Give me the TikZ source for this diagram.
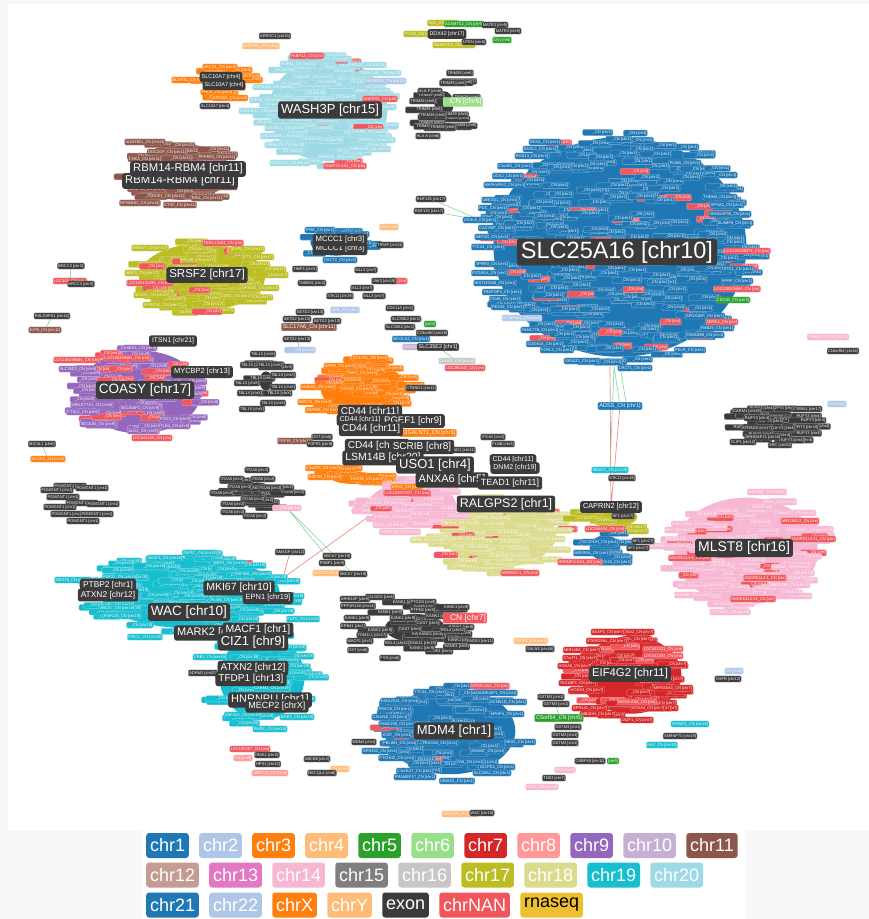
\documentclass[tikz,border=0pt]{standalone}
\usepackage{fontspec}
\setmainfont{Liberation Sans}
\usetikzlibrary{positioning}
\pgfdeclarelayer{back}
\pgfdeclarelayer{links}
\pgfsetlayers{back,links,main}
\definecolor{chr1}{HTML}{1F77B4}\definecolor{chr2}{HTML}{AEC7E8}
\definecolor{chr3}{HTML}{FF7F0E}\definecolor{chr4}{HTML}{FFBB78}
\definecolor{chr5}{HTML}{2CA02C}\definecolor{chr6}{HTML}{98DF8A}
\definecolor{chr7}{HTML}{D62728}\definecolor{chr8}{HTML}{FF9896}
\definecolor{chr9}{HTML}{9467BD}\definecolor{chr10}{HTML}{C5B0D5}
\definecolor{chr11}{HTML}{8C564B}\definecolor{chr12}{HTML}{C49C94}
\definecolor{chr13}{HTML}{E377C2}\definecolor{chr14}{HTML}{F7B6D2}
\definecolor{chr15}{HTML}{7F7F7F}\definecolor{chr16}{HTML}{C7C7C7}
\definecolor{chr17}{HTML}{BCBD22}\definecolor{chr18}{HTML}{DBDB8D}
\definecolor{chr19}{HTML}{17BECF}\definecolor{chr20}{HTML}{9EDAE5}
\definecolor{chr21}{HTML}{1F77B4}\definecolor{chr22}{HTML}{AEC7E8}
\definecolor{chrX}{HTML}{FF7F0E}\definecolor{chrY}{HTML}{FFBB78}
\definecolor{exon}{HTML}{3B3B3B}\definecolor{chrNAN}{HTML}{F0565C}
\definecolor{rnaseq}{HTML}{EEC031}
\definecolor{edgegreen}{HTML}{8FDBA8}\definecolor{edgepink}{HTML}{F08A8A}
\definecolor{panel}{HTML}{F8F8F8}
% cloud of small gene chips: cx, cy, rx, ry, count, colour, text, red share, core
\newcommand{\genecloud}[9]{%
  \fill[#6] (#1,#2) ellipse [x radius=#9*#3, y radius=#9*#4];
  \foreach \k in {1,...,#5}{%
    \pgfmathsetmacro\gang{360*rnd}%
    \pgfmathsetmacro\grad{sqrt(rnd)}%
    \pgfmathsetmacro\gpad{12*rnd}%
    \pgfmathsetmacro\gred{rnd}%
    \pgfmathsetmacro\gx{#1+#3*\grad*cos(\gang)}%
    \pgfmathsetmacro\gy{#2+#4*\grad*sin(\gang)}%
    \ifdim\gred pt<#8pt
      \node[chip=chrNAN] at (\gx,\gy) {\hspace*{\gpad pt}\_CN [chr]};%
    \else
      \node[chip=#6] at (\gx,\gy) {\hspace*{\gpad pt}#7};%
    \fi
  }}

\begin{document}
\begin{tikzpicture}[x=1pt,y=-1pt,
  chip/.style={fill=#1,draw=#1!55!white,line width=.3pt,rounded corners=1.2pt,text=white,inner xsep=1pt,inner ysep=1.2pt,font=\fontsize{4}{4.5}\selectfont},
  bigchip/.style={chip=#1,inner xsep=1.5pt,font=\fontsize{5.5}{6}\selectfont},
  hub/.style={fill=exon,text=white,rounded corners=2.5pt,inner xsep=3pt,inner ysep=2.5pt,font=\fontsize{#1}{#1}\selectfont},
  key/.style={fill=#1,text=white,rounded corners=3pt,minimum height=25pt,inner xsep=3.8pt,font=\fontsize{18}{18}\selectfont},
  link/.style={line width=.7pt}]
\useasboundingbox (0,0) rectangle (869,919);
\begin{pgfonlayer}{back}
\fill[panel] (0,0) rectangle (869,919);
\fill[white] (8,4) rectangle (869,831);
\fill[white] (143,831) rectangle (745,919);
\end{pgfonlayer}
\pgfmathsetseed{11}

% clusters
\genecloud{620}{247}{136}{118}{300}{chr1}{\_CN [chr1]}{0.1}{0.93}
\genecloud{328}{110}{66}{57}{80}{chr20}{\_CN [chr20]}{0.08}{0.9}
\genecloud{182}{172}{54}{31}{36}{chr11}{\_CN [chr11]}{0}{0.9}
\genecloud{221}{82}{30}{16}{12}{chrX}{\_CN [chrX]}{0}{0.6}
\genecloud{444}{104}{24}{32}{14}{exon}{TRIM39 [chr6]}{0}{0.4}
\genecloud{202}{277}{70}{37}{55}{chr17}{\_CN [chr17]}{0.08}{0.9}
\genecloud{336}{242}{32}{17}{12}{chr1}{\_CN [chr1]}{0.08}{0.8}
\genecloud{140}{392}{68}{46}{66}{chr9}{\_CN [chr9]}{0.4}{0.9}
\genecloud{363}{388}{50}{30}{32}{chr3}{\_CN [chr3]}{0.08}{0.85}
\genecloud{355}{478}{40}{10}{10}{chr3}{\_CN [chr3]}{0}{0.6}
\genecloud{500}{535}{70}{40}{85}{chr18}{\_CN [chr18]}{0.12}{0.8}
\genecloud{412}{505}{52}{26}{36}{chr14}{\_CN [chr14]}{0.15}{0.85}
\genecloud{190}{593}{102}{40}{85}{chr19}{\_CN [chr19]}{0.05}{0.88}
\genecloud{262}{677}{50}{50}{50}{chr19}{\_CN [chr19]}{0.05}{0.85}
\genecloud{450}{731}{71}{47}{70}{chr1}{\_CN [chr1]}{0.05}{0.92}
\genecloud{631}{675}{56}{43}{50}{chr7}{\_CN [chr7]}{0.2}{0.9}
\genecloud{746}{551}{78}{58}{95}{chr14}{\_CN [chr14]}{0.2}{0.92}
\genecloud{612}{517}{36}{14}{10}{chr17}{\_CN [chr17]}{0}{0.7}
\genecloud{605}{548}{22}{18}{8}{chr1}{\_CN [chr1]}{0.2}{0.7}
\genecloud{778}{423}{38}{21}{30}{exon}{RUFY3 [chr4]}{0}{0.6}
\genecloud{257}{491}{34}{19}{12}{exon}{ITGA6 [chr2]}{0}{0.45}
\genecloud{415}{628}{60}{28}{24}{exon}{KANK1 [chr9]}{0}{0.5}
\genecloud{266}{381}{16}{24}{6}{exon}{TBL1X [chrX]}{0}{0.4}

% readable chips
\foreach \x/\y/\t [count=\i] in {545/142/RGS1\_CN [chr1],540/149/RGSL1\_CN [chr1],532/156/RGS13\_CN [chr1],515/166/C1orf51\_CN [chr1],508/176/UCK2\_CN [chr1],505/185/MAPKAPK2\_CN [chr1],500/200/UBE2Q1\_CN [chr1],493/208/PDC\_CN [chr1],497/217/SDHC\_CN [chr1],497/228/CACYBP\_CN [chr1],492/237/MEF2D\_CN [chr1],488/247/TTC24\_CN [chr1],492/264/SPRR3\_CN [chr1],490/273/FCGR1A\_CN [chr1],495/283/HIST2H2AB\_CN [chr1],502/292/TRAF3IP3\_CN [chr1],505/299/CD48\_CN [chr1],508/307/PEX19\_CN [chr1],540/330/FAM177B\_CN [chr1],545/344/S100A14\_CN [chr1],557/350/FCRL3\_CN [chr1],582/361/OR10Z1\_CN [chr1],635/368/CRCT1\_CN [chr1],730/214/ARHGAP30\_CN [chr1],735/223/SLAMF6\_CN [chr1],727/205/APOA2\_CN [chr1],720/197/THEM4\_CN [chr1],685/163/PI4KB\_CN [chr1],737/269/TSTD1\_CN [chr1],737/281/KPRP\_CN [chr1],705/316/APOA1BP\_CN [chr1],717/328/RAB25\_CN [chr1],705/335/FAM189B\_CN [chr1],690/350/PKLR\_CN [chr1],320/230/PPIE\_CN [chr1],340/260/OXCT2\_CN [chr1],411/339/MCOLN2\_CN [chr1],600/542/SCCPDH\_CN [chr1],592/553/MIR3916\_CN [chr1],615/562/COX20\_CN [chr1],430/692/TTC34\_CN [chr1],497/693/AURKAIP1\_CN [chr1],400/701/KIAA2013\_CN [chr1],508/702/SCNN1D\_CN [chr1],395/709/FBXO6\_CN [chr1],507/714/NPHP4\_CN [chr1],390/717/CALML6\_CN [chr1],398/724/FAM213B\_CN [chr1],397/735/ICMT\_CN [chr1],400/743/FBLIM1\_CN [chr1],440/743/FBXO44\_CN [chr1],380/751/GPR153\_CN [chr1],397/758/PTCHD2\_CN [chr1],415/771/C1orf127\_CN [chr1],415/777/PRAMEF17\_CN [chr1],492/773/SLC45A1\_CN [chr1],497/767/GLTPD1\_CN [chr1],488/751/AGMAT\_CN [chr1],520/742/HES2\_CN [chr1],470/762/CA6\_CN [chr1],457/781/UBIAD1\_CN [chr1]}
  \node[chip=chr1] (b\i) at (\x,\y) {\t};
\node[chip=chr1] (uchl) at (480,220) {UCHL5\_CN [chr1]};
\node[bigchip=chr1] (adss) at (620,406) {ADSS\_CN [chr1]};
\foreach \x/\y/\t [count=\i] in {335/59/EBF4\_CN [chr20],298/64/RNF24\_CN [chr20],367/65/NSFL1C\_CN [chr20],380/73/TMEM74B\_CN [chr20],313/77/C20orf27\_CN [chr20],273/87/DEFB126\_CN [chr20],373/91/BMP2\_CN [chr20],267/100/STK35\_CN [chr20],260/111/C20orf141\_CN [chr20],285/128/SIGLEC1\_CN [chr20],370/132/SIRPG\_CN [chr20],282/136/LINC00658\_CN [chr20],377/140/GFRA4\_CN [chr20],285/145/DEFB129\_CN [chr20],370/149/TMEM239\_CN [chr20],337/157/MRPS26\_CN [chr20],290/163/RAD21L1\_CN [chr20]}
  \node[chip=chr20] (w\i) at (\x,\y) {\t};
\foreach \x/\y/\t [count=\i] in {145/142/ALDH3B1\_CN [chr11],167/152/DOC2GP\_CN [chr11],145/159/CHKA\_CN [chr11],217/157/PPP6R3\_CN [chr11],147/189/NDUFS8\_CN [chr11],218/187/PPP1CA\_CN [chr11],168/196/RCE1\_CN [chr11],207/198/RIN1\_CN [chr11],140/203/RPS6KB2\_CN [chr11],180/205/CTSF\_CN [chr11],295/441/FGF19\_CN [chr11]}
  \node[chip=chr11] (r\i) at (\x,\y) {\t};
\foreach \x/\y/\t [count=\i] in {220/67/ABCD1\_CN [chrX],190/80/BCAP31\_CN [chrX],217/92/PNCK\_CN [chrX],230/98/ATP2B3\_CN [chrX],370/358/COL7A1\_CN [chr3],340/366/APEH\_CN [chr3],362/373/TMA7\_CN [chr3],318/387/SHISA5\_CN [chr3],357/389/DHX30\_CN [chr3],315/402/MIR711\_CN [chr3],323/410/ZNF589\_CN [chr3],323/468/C3orf75\_CN [chr3],325/477/RAP2B\_CN [chr3],367/479/DHX36\_CN [chr3],407/487/GFM1\_CN [chr3],48/459/DOCK3\_CN [chr3]}
  \node[chip=chr3] (o\i) at (\x,\y) {\t};
\foreach \x/\y/\t [count=\i] in {443/23/GH1\_CN [chr17],421/34/FTSJ3\_CN [chr17],454/45/SMARCD2\_CN [chr17],248/249/EVPL\_CN [chr17],150/248/MXRA7\_CN [chr17],198/260/RPL38\_CN [chr17],258/257/ICT1\_CN [chr17],142/273/WBP2\_CN [chr17],260/288/GRIN2C\_CN [chr17],152/295/ACOX1\_CN [chr17],237/296/CDK3\_CN [chr17],163/305/GPRC5C\_CN [chr17],638/531/CN [chr17]}
  \node[chip=chr17] (y\i) at (\x,\y) {\t};
\foreach \x/\y/\t [count=\i] in {140/348/AAED1\_CN [chr9],78/369/SLC35D2\_CN [chr9],175/419/FGD3\_CN [chr9],175/426/TLE4\_CN [chr9],140/408/SECISBP2\_CN [chr9],143/431/ALG2\_CN [chr9],98/424/SEC61B\_CN [chr9],92/405/MIRLET7A1\_CN [chr9],83/412/CTSL2\_CN [chr9]}
  \node[chip=chr9] (p\i) at (\x,\y) {\t};
\foreach \x/\y/\t [count=\i] in {385/503/LGALS3\_CN [chr14],393/517/PTGDR\_CN [chr14],390/525/MAX\_CN [chr14],400/532/TXNDC16\_CN [chr14],693/524/LINC00341\_CN [chr14],680/530/AK7\_CN [chr14],670/546/SERPINA4\_CN [chr14],795/513/C14orf177\_CN [chr14],808/530/LINC00523\_CN [chr14],767/492/MIR2392\_CN [chr14],780/502/DLK1\_CN [chr14],693/586/EVL\_CN [chr14],693/595/MIR495\_CN [chr14],730/612/CYP46A1\_CN [chr14],790/585/MIR323B\_CN [chr14],790/567/MIR411\_CN [chr14],828/337/TMEM179\_CN [chr14],565/770/CN [chr14],542/787/ATL1\_CN [chr14]}
  \node[chip=chr14] (k\i) at (\x,\y) {\t};
\node[chip=chr14] (itgaPink) at (287,508) {\hspace*{8pt}CN [chr14]};
\foreach \x/\y/\t [count=\i] in {460/523/ZNF516\_CN [chr18],467/539/GALR1\_CN [chr18],520/560/CNDP2\_CN [chr18],547/539/CDH19\_CN [chr18],427/540/RBFA\_CN [chr18],493/518/RTTN\_CN [chr18]}
  \node[chip=chr18] (e\i) at (\x,\y) {\t};
\foreach \x/\y/\t [count=\i] in {165/558/ADAT3\_CN [chr19],200/553/ZNF57\_CN [chr19],230/563/EEF2\_CN [chr19],120/577/FGF22\_CN [chr19],253/574/ZNF556\_CN [chr19],73/580/MED16\_CN [chr19],117/608/ABCA7\_CN [chr19],122/616/RNF126\_CN [chr19],145/637/STK11\_CN [chr19],227/600/PLIN5\_CN [chr19],177/609/RPS15\_CN [chr19],303/619/FUT5\_CN [chr19],210/657/CRB3\_CN [chr19],272/688/CARM1\_CN [chr19],243/715/ZNF443\_CN [chr19],297/717/EMR3\_CN [chr19],270/729/EMR2\_CN [chr19],690/724/GRWD1\_CN [chr19],662/745/BAX\_CN [chr19]}
  \node[chip=chr19] (c\i) at (\x,\y) {\t};
\node[chip=chr19] (sbno) at (610,470) {SBNO2\_CN [chr19]};
\foreach \x/\y/\t [count=\i] in {637/632/HOXA2\_CN [chr7],608/632/SKAP2\_CN [chr7],637/639/TRIL\_CN [chr7],607/641/STARD3NL\_CN [chr7],582/650/MIR148A\_CN [chr7],580/658/C7orf71\_CN [chr7],575/666/HOXA5\_CN [chr7],578/683/TAX1BP1\_CN [chr7],587/690/HOXA3\_CN [chr7],673/688/MIR550A3\_CN [chr7],590/708/GPR141\_CN [chr7],598/714/HIBADH\_CN [chr7],648/708/HOXA4\_CN [chr7],637/720/JAZF1\_CN [chr7]}
  \node[chip=chr7] (h\i) at (\x,\y) {\t};
\foreach \x/\y/\t [count=\i] in {747/251/LOC100288079\_CN [chr],737/289/LOC100505666\_CN [chr],722/322/MIR9-1\_CN [chr],380/99/ANKRD5\_CN [chr],345/166/SNAP25-AS1\_CN [chr],307/56/FKBP1A\_CN [chr],223/243/TEN1-CDK3\_CN [chr],150/283/LOC100131096\_CN [chr],77/360/LOC100499484\_CN [chr],127/358/LOC100499484\_CN [chr],152/438/LOC441455\_CN [chr],465/368/LOC390443\_CN [chr],407/493/LOC100507537\_CN [chr],520/573/MIR5583-1\_CN [chr],605/529/LOC256654\_CN [chr],580/562/HNRNPU-AS1\_CN [chr],663/649/LOC401321\_CN [chr],663/656/LOC441204\_CN [chr],637/702/HOXA-AS4\_CN [chr],490/686/MTOR-AS1\_CN [chr],690/558/SNORD114-8\_CN [chr],765/578/SNORD114-1\_CN [chr],753/599/SNORD114-31\_CN [chr],813/539/SNORD114-21\_CN [chr],800/521/MIR1185-2\_CN [chr],250/749/LOC100287\_CN [chr],399/281/CN [chr]}
  \node[chip=chrNAN] (n\i) at (\x,\y) {\t};
\node[chip=chrNAN] (loc405) at (70,281) {LOC405\_CN [chr]};
\foreach \x/\y/\t/\c [count=\i] in {385/81/SNORD56\_CN [chr22]/chr22,733/300/CKS1B\_CN [chr5]/chr5,522/318/SCARNA4\_CN [chr2]/chr2,464/24/ADAMTS2\_CN [chr5]/chr5,502/40/CN [chr5]/chr5,389/227/CN [chr4]/chr4,345/310/NEB\_CN [chr2]/chr2,430/324/[chr5]/chr5,413/347/CN [chr10]/chr10,457/361/CAUD2\_CN [chr16]/chr16,837/404/CN [chr2]/chr2,531/641/TECRL\_CN [chr4]/chr4,734/671/CN [chr2]/chr2,613/761/[chr5]/chr5,460/814/GPR125\_CN [chr4]/chr4,261/46/MIR5705\_CN [chr4]/chr4,243/758/CN [chr8]/chr8,270/773/UBE2V2\_CN [chr8]/chr8,340/769/CN [chr4]/chr4,330/573/EXOC3\_CN [chr5]/chr4,45/330/E2F8\_CN [chr11]/chr11}
  \node[chip=\c] (m\i) at (\x,\y) {\t};
\node[chip=chr22] (c22) at (300,350) {\hspace*{10pt}CN [chr22]};
\node[bigchip=chr11] (slc17) at (309,327) {SLC17A6\_CN [chr11]};
\node[bigchip=chr5] (c5orf) at (559,718) {C5orf64\_CN [chr5]};
\node[chip=chr6,font=\fontsize{7.5}{8}\selectfont] (cn6) at (463,102) {\hspace*{6pt}CN [chr6]};

% exon chips
\foreach \x/\y/\t [count=\i] in {460/73/TRIM39 [chr6],453/83/TRIM39 [chr6],430/91/HLA-F [chr6],423/101/TRIM39 [chr6],433/115/TRIM39 [chr6],443/127/TRIM39 [chr6],428/136/HLA-A [chr6],495/25/MATR3 [chr5],508/31/MATR3 [chr5],474/42/UTRN [chr6],215/106/SLC10A7 [chr4],390/245/TIRAP [chr11],305/269/TIMP1 [chrX],312/283/TMBIM1 [chr2],366/270/MLL3 [chr7],384/281/JAK3 [chr19],362/288/MLL3 [chr7],340/296/STK11 [chr19],374/296/MLL3 [chr7],310/312/SETD2 [chr13],297/319/SETD2 [chr13],327/321/SETD2 [chr13],400/308/CDK11A [chr1],406/319/SLC35E2 [chr1],400/327/SLC35E2 [chr1],432/333/C19orf60 [chr19],263/354/TBL1X [chrX],253/365/TBL1X [chrX],270/365/TBL1X [chrX],283/375/TBL1X [chrX],247/383/TBL1X [chrX],283/387/TBL1X [chrX],250/393/TBL1X [chrX],273/403/TBL1X [chrX],252/409/TBL1X [chrX],322/437/DST [chr6],320/444/FGFR1 [chr8],460/450/CTNND1 [chr11],493/437/ITGAV [chr2],503/444/FLNB [chr3],257/470/ITGA6 [chr2],232/479/ITGA6 [chr2],263/479/ITGA6 [chr2],240/487/ITGA6 [chr2],270/488/ITGA6 [chr2],222/493/ITGA6 [chr2],253/499/ITGA6 [chr2],233/504/ITGA6 [chr2],233/512/ITGA6 [chr2],255/516/ITGA6 [chr2],70/486/POMGNT1 [chr1],57/490/POMGNT1 [chr1],92/488/POMGNT1 [chr1],63/497/POMGNT1 [chr1],82/503/POMGNT1 [chr1],60/507/POMGNT1 [chr1],103/504/POMGNT1 [chr1],67/514/POMGNT1 [chr1],97/514/POMGNT1 [chr1],83/521/POMGNT1 [chr1],747/411/CARM1 [chr19],807/409/CYB561 [chr17],757/418/RUFY3 [chr4],807/427/IFIT3 [chr10],757/428/STRADA [chr17],763/437/ARHGAP21 [chr10],743/442/CLIP1 [chr12],780/445/SRC [chr20],623/516/NF1 [chr17],643/541/NF1 [chr17],638/548/NF1 [chr17],622/478/STK11 [chr19],380/597/RALGDS [chr9],355/599/ARHGAP [chr9],358/606/PPP1R13A [chr14],423/602/PTGDS [chr9],423/610/PTPN3 [chr9],357/618/KANK1 [chr9],403/618/KANK1 [chr9],428/623/CAST [chr5],410/629/CAST [chr5],453/630/RGL4 [chr22],353/626/EPB41 [chr1],372/635/TOM1L1 [chr17],360/641/MACF1 [chr1],423/643/GNA11 [chr19],397/643/RGL4 [chr22],358/650/DST [chr6],390/658/FYN [chr6],480/641/FADS3 [chr11],337/556/ABCA7 [chr19],267/755/IRAK1 [chrX],268/764/HPS1 [chr10],317/759/ABCB6 [chr2],322/773/RECQL4 [chr8],551/697/GSTM3 [chr1],568/727/GSTM3 [chr1],565/735/GSTM3 [chr1],565/743/GSTM3 [chr1],540/649/GALNS [chr16],680/736/SNRNP70 [chr19],728/679/CHFR [chr12],590/761/OSBPL8 [chr11],554/778/TNS3 [chr7],482/813/WAC [chr10],275/36/ARRDC4 [chr15],843/351/C16orf84 [chr16],81/284/BRCC3 [chrX],203/673/ADRM1 [chr20]}
  \node[chip=exon] (x\i) at (\x,\y) {\t};
\node[chip=exon] (rnfA) at (431,199) {RNF135 [chr17]};
\node[chip=exon] (rnfB) at (429,211) {RNF135 [chr17]};
\node[chip=exon] (brccA) at (71,266) {BRCC3 [chrX]};
\node[chip=exon] (ralgapa) at (52,316) {RALGAPA1 [chr14]};
\node[chip=exon] (mical) at (42,444) {MICAL1 [chr6]};
\node[chip=exon] (setdC) at (297,339) {SETD2 [chr13]};
\node[chip=exon] (fnbp) at (332,563) {FNBP1 [chr9]};
\node[chip=exon] (abcaB) at (353,574) {ABCA7 [chr19]};
\node[chip=exon] (smagp) at (290,552) {SMAGP [chr12]};
\node[chip=exon] (gstA) at (556,704) {GSTM3 [chr1]};
\node[chip=exon] (mdmA) at (364,742) {MDM4 [chr1]};
\node[chip=exon] (ctnA) at (421,388) {CTNND1 [chr11]};
\node[bigchip=exon] (slc35big) at (438,347) {SLC35E2 [chr1]};
\node[bigchip=chr3] (b3gal) at (428,433) {B3GALNT1\_CN [chr3]};
\node[chip=chrNAN,font=\fontsize{8.5}{9}\selectfont] (cn7) at (465,618) {\hspace*{6pt}CN [chr7]};

% hubs
\node[hub=23.5,inner xsep=4pt] (slc) at (617,252) {SLC25A16 [chr10]};
\node[hub=13] (wash) at (330,110) {WASH3P [chr15]};
\node[hub=11.3] (rbmB) at (180,181) {RBM14-RBM4 [chr11]};
\node[hub=11.3] (rbm) at (188,169) {RBM14-RBM4 [chr11]};
\node[hub=5.5,inner xsep=2pt] (slc10a) at (221,77) {SLC10A7 [chr4]};
\node[hub=5.5,inner xsep=2pt] (slc10b) at (224,85) {SLC10A7 [chr4]};
\node[hub=5.3,inner xsep=2pt] (ddx) at (447,34) {DDX42 [chr17]};
\node[hub=11.5] (srsf) at (207,275) {SRSF2 [chr17]};
\node[hub=7.7] (mcccB) at (340,249) {MCCC1 [chr3]};
\node[hub=7.7] (mccc) at (340,240) {MCCC1 [chr3]};
\node[hub=13.5] (coasy) at (145,390) {COASY [chr17]};
\node[hub=6.8] (itsn) at (173,341) {ITSN1 [chr21]};
\node[hub=7.5] (mycbp) at (202,372) {MYCBP2 [chr13]};
\node[hub=10] (cd44a) at (370,412) {CD44 [chr11]};
\node[hub=7] (cd44b) at (360,420) {CD44 [chr11]};
\node[hub=9.5] (pgef) at (413,421) {PGEF1 [chr9]};
\node[hub=10] (cd44c) at (371,429) {CD44 [chr11]};
\node[hub=10] (cd44d) at (377,446) {CD44 [chr11]};
\node[hub=10] (scrib) at (422,447) {SCRIB [chr8]};
\node[hub=10.5] (lsm) at (383,458) {LSM14B [chr20]};
\node[hub=7] (cd44e) at (513,460) {CD44 [chr11]};
\node[hub=7] (dnm) at (515,468) {DNM2 [chr19]};
\node[hub=11] (anxa) at (452,480) {ANXA6 [chr5]};
\node[hub=13] (uso) at (435,465) {USO1 [chr4]};
\node[hub=9] (tead) at (510,483) {TEAD1 [chr11]};
\node[hub=12.5] (ralg) at (506,504) {RALGPS2 [chr1]};
\node[hub=7.3] (caprin) at (611,507) {CAPRIN2 [chr12]};
\node[hub=8.4] (ptbp) at (108,585) {PTBP2 [chr1]};
\node[hub=8.4] (atxnA) at (108,595) {ATXN2 [chr12]};
\node[hub=10.5] (mki) at (239,588) {MKI67 [chr10]};
\node[hub=7.5] (epn) at (268,598) {EPN1 [chr19]};
\node[hub=13.5] (wac) at (189,612) {WAC [chr10]};
\node[hub=11] (mark) at (214,633) {MARK2 [chr11]};
\node[hub=10.5] (macf) at (258,630) {MACF1 [chr1]};
\node[hub=13] (ciz) at (253,642) {CIZ1 [chr9]};
\node[hub=10] (atxnB) at (253,668) {ATXN2 [chr12]};
\node[hub=10] (tfdp) at (251,679) {TFDP1 [chr13]};
\node[hub=11] (hnrnpu) at (270,700) {HNRNPU [chr1]};
\node[hub=9] (mecp) at (277,706) {MECP2 [chrX]};
\node[hub=13] (mdm) at (454,731) {MDM4 [chr1]};
\node[hub=11.3] (eif) at (630,674) {EIF4G2 [chr11]};
\node[hub=14] (mlst) at (744,548) {MLST8 [chr16]};

% links
\begin{pgfonlayer}{links}
\coordinate (slcfoot) at (614,366);
\coordinate (midfoot) at (368,517);
\coordinate (wacedge) at (283,578);
\draw[link,edgegreen] (rnfA) -- (uchl) (rnfB) -- (uchl);
\draw[link,edgegreen] (slcfoot) -- (adss) ([xshift=6pt]slcfoot) -- ([xshift=6pt]adss.north) (slcfoot) -- (sbno);
\draw[link,edgepink] ([xshift=-4pt]slcfoot) -- (caprin) (adss) -- (caprin);
\draw[link,edgegreen] (brccA) -- (loc405) (ralgapa) -- (m21) (mical) -- (o16);
\draw[link,edgegreen] (itgaPink) -- (abcaB) (itgaPink) -- (fnbp);
\draw[link,edgepink] (midfoot) -- (wacedge) (smagp) -- (wacedge);
\draw[link,edgegreen] (slc35big) -- (m10) (gstA) -- (c5orf) (setdC) -- (c22);
\draw[link,edgepink] (ctnA) -- (cd44a);
\foreach \i in {0,...,9}
  \draw[link,edgegreen] (176+4*\i,596) -- (200+4*\i,566);
\end{pgfonlayer}

% legend
\node[key=chr1,anchor=west] (chr1) at (146,845.5) {chr1};
\foreach \c [remember=\c as \p (initially chr1)] in {chr2,chr3,chr4,chr5,chr6,chr7,chr8,chr9,chr10,chr11}
  \node[key=\c,right=10pt of \p] (\c) {\c};
\node[key=chr12,anchor=west] (chr12) at (146,875) {chr12};
\foreach \c [remember=\c as \p (initially chr12)] in {chr13,chr14,chr15,chr16,chr17,chr18,chr19,chr20}
  \node[key=\c,right=10pt of \p] (\c) {\c};
\node[key=chr21,anchor=west] (chr21) at (146,905) {chr21};
\foreach \c [remember=\c as \p (initially chr21)] in {chr22,chrX,chrY,exon,chrNAN}
  \node[key=\c,right=10pt of \p] (\c) {\c};
\node[key=rnaseq,text=black,right=10pt of chrNAN] (rnaseq) {rnaseq};
\end{tikzpicture}
\end{document}
